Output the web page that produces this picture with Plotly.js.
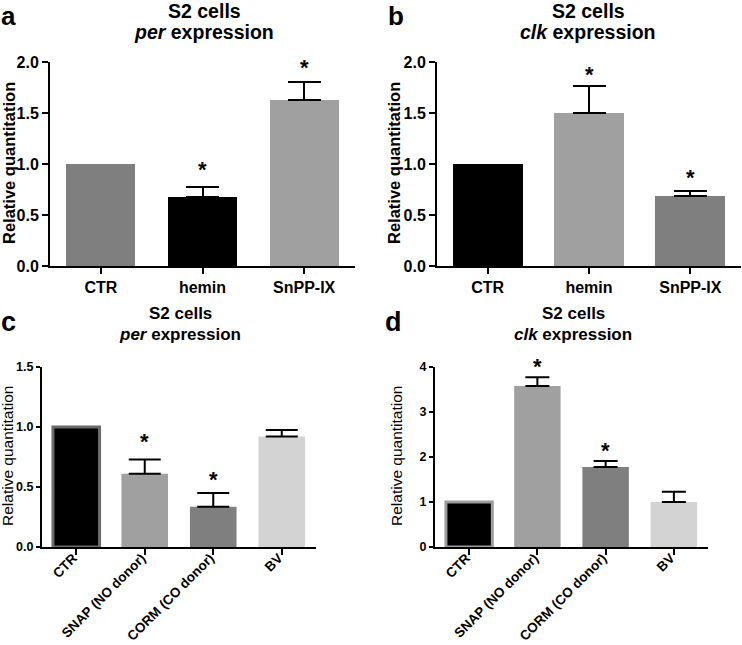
<!DOCTYPE html>
<html>
<head>
<meta charset="utf-8">
<script src="https://cdn.plot.ly/plotly-3.0.1.min.js"></script>
<style>html,body{margin:0;padding:0;background:#fff;}#chart{width:742px;height:645px;}</style>
</head>
<body>
<div id="chart"></div>
<script>
// ---- data ----
const catsAB = ['CTR', 'hemin', 'SnPP-IX'];
const catsCD = ['CTR', 'SNAP (NO donor)', 'CORM (CO donor)', 'BV'];

const perA = [1.0, 0.68, 1.63];
const perAErrTop = [null, 0.77, 1.80];
const perASig = [false, true, true];

const clkB = [1.0, 1.50, 0.69];
const clkBErrTop = [null, 1.76, 0.735];
const clkBSig = [false, true, true];

const perC = [1.0, 0.61, 0.335, 0.92];
const perCErrTop = [null, 0.73, 0.45, 0.975];
const perCSig = [false, true, true, false];

const clkD = [1.0, 3.58, 1.78, 1.0];
const clkDErrTop = [null, 3.77, 1.91, 1.23];
const clkDSig = [false, true, true, false];

// asterisk heights (data units)
const starA = [null, 0.99, 1.99];
const starB = [null, 1.92, 0.91];
const starC = [null, 0.91, 0.60, null];
const starD = [null, 4.09, 2.24, null];

const colorsA = ['#7f7f7f', '#000000', '#a0a0a0'];
const colorsB = ['#000000', '#a0a0a0', '#7f7f7f'];
const colorsCD = ['#000000', '#a0a0a0', '#7f7f7f', '#d3d3d3'];

// ---- helpers ----
const FONT = 'Liberation Sans, Arial, sans-serif';
const W = 742, H = 645;
const px = v => v / W;
const py = v => 1 - v / H;

function errUp(vals, tops) {
  return tops.map((t, i) => (t === null ? NaN : t - vals[i]));
}

function barTrace(cats, vals, tops, colors, xa, ya, width, capW, lineColors, lineWidths) {
  return {
    type: 'bar', x: cats, y: vals, xaxis: xa, yaxis: ya, width: width,
    marker: {color: colors, line: {color: lineColors, width: lineWidths}},
    error_y: {type: 'data', symmetric: false, array: errUp(vals, tops),
              color: '#000', thickness: 2, width: capW},
    hoverinfo: 'skip'
  };
}

const traces = [
  barTrace(catsAB, perA, perAErrTop, colorsA, 'x', 'y', 0.68, 16.5, colorsA, 0),
  barTrace(catsAB, clkB, clkBErrTop, colorsB, 'x2', 'y2', 0.69, 16.5, colorsB, 0),
  barTrace(catsCD, perC, perCErrTop, colorsCD, 'x3', 'y3', 0.68, 16,
           ['#6b6b6b', '#a0a0a0', '#7f7f7f', '#d3d3d3'], [3, 0, 0, 0]),
  barTrace(catsCD, clkD, clkDErrTop, colorsCD, 'x4', 'y4', 0.68, 12,
           ['#9e9e9e', '#a0a0a0', '#7f7f7f', '#d3d3d3'], [3, 0, 0, 0])
];

function xAxis(d0, d1, anchor, n, fsize, angle, extra) {
  return Object.assign({
    domain: [px(d0), px(d1)], anchor: anchor, type: 'category', range: [-0.5, n - 0.5],
    showline: true, linewidth: 2, linecolor: '#000', ticks: 'outside', ticklen: 6,
    tickwidth: 2, tickcolor: '#000', showgrid: false, zeroline: false, fixedrange: true,
    tickangle: angle,
    tickfont: {family: FONT, size: fsize, color: '#000', weight: 'bold'}
  }, extra || {});
}
function yAxis(top, bottom, anchor, rmax, dtick, fmt, fsize, tlen) {
  return {
    domain: [py(bottom), py(top)], anchor: anchor, range: [0, rmax], dtick: dtick,
    tickformat: fmt, showline: true, linewidth: 2, linecolor: '#000', ticks: 'outside',
    ticklen: tlen, tickwidth: 2, tickcolor: '#000', showgrid: false, zeroline: false,
    fixedrange: true,
    tickfont: {family: FONT, size: fsize, color: '#000', weight: 'bold'}
  };
}

const axisDefs = {
  xaxis: xAxis(50, 355, 'y', 3, 16, 0),
  yaxis: yAxis(62, 266, 'x', 2.0, 0.5, '.1f', 16, 6),
  xaxis2: xAxis(437, 741, 'y2', 3, 16, 0),
  yaxis2: yAxis(62, 266, 'x2', 2.0, 0.5, '.1f', 16, 6),
  xaxis3: xAxis(42, 316, 'y3', 4, 13.5, -45, {ticklabelstandoff: -10, ticklabelshift: -3}),
  yaxis3: yAxis(367, 547, 'x3', 1.5, 0.5, '.1f', 12.5, 4),
  xaxis4: xAxis(435, 708, 'y4', 4, 13.5, -45, {ticklabelstandoff: -10, ticklabelshift: -3}),
  yaxis4: yAxis(367, 547, 'x4', 4, 1, 'd', 12.5, 4)
};

const annotations = [];
function paperText(text, x, y, size, bold, angle) {
  annotations.push({
    text: text, xref: 'paper', yref: 'paper', x: px(x), y: py(y),
    xanchor: 'center', yanchor: 'middle', showarrow: false, textangle: angle || 0,
    font: {family: FONT, size: size, color: '#000', weight: bold ? 'bold' : 'normal'}
  });
}
// asterisks: x on the category axis, y converted from data units to paper
// through the axis domain/range (so marks above the axis top still show)
function stars(cats, vals, sig, xa, yaName, size) {
  const ya = axisDefs[yaName];
  cats.forEach((c, i) => {
    if (!sig[i]) return;
    const frac = (vals[i] - ya.range[0]) / (ya.range[1] - ya.range[0]);
    annotations.push({
      text: '*', xref: xa, yref: 'paper', x: c,
      y: ya.domain[0] + frac * (ya.domain[1] - ya.domain[0]),
      xanchor: 'center', yanchor: 'middle', showarrow: false, yshift: -4,
      font: {family: FONT, size: size, color: '#000', weight: 'bold'}
    });
  });
}

stars(catsAB, starA, perASig, 'x', 'yaxis', 22);
stars(catsAB, starB, clkBSig, 'x2', 'yaxis2', 22);
stars(catsCD, starC, perCSig, 'x3', 'yaxis3', 22);
stars(catsCD, starD, clkDSig, 'x4', 'yaxis4', 22);

// panel letters
paperText('a', 8, 16, 26, true);
paperText('b', 396, 16, 26, true);
paperText('c', 8, 322, 27, true);
paperText('d', 393, 322, 27, true);

// titles
paperText('S2 cells', 204, 11, 19.5, true);
paperText('<i>per</i> expression', 204, 32, 19.5, true);
paperText('S2 cells', 588, 11, 19.5, true);
paperText('<i>clk</i> expression', 588, 32, 19.5, true);
paperText('S2 cells', 180, 313, 17, true);
paperText('<i>per</i> expression', 180, 334, 17, true);
paperText('S2 cells', 573, 313, 17, true);
paperText('<i>clk</i> expression', 573, 334, 17, true);

// y-axis titles
paperText('Relative quantitation', 9, 163, 16.5, true, -90);
paperText('Relative quantitation', 394, 163, 16.5, true, -90);
paperText('Relative quantitation', 7, 456, 15.5, false, -90);
paperText('Relative quantitation', 396, 456, 15.5, false, -90);

const layout = Object.assign({
  width: W, height: H, margin: {l: 0, r: 0, t: 0, b: 0},
  paper_bgcolor: '#fff', plot_bgcolor: '#fff', showlegend: false, bargap: 0,
  annotations: annotations
}, axisDefs);

Plotly.newPlot('chart', traces, layout, {staticPlot: true, displayModeBar: false});
</script>
</body>
</html>
